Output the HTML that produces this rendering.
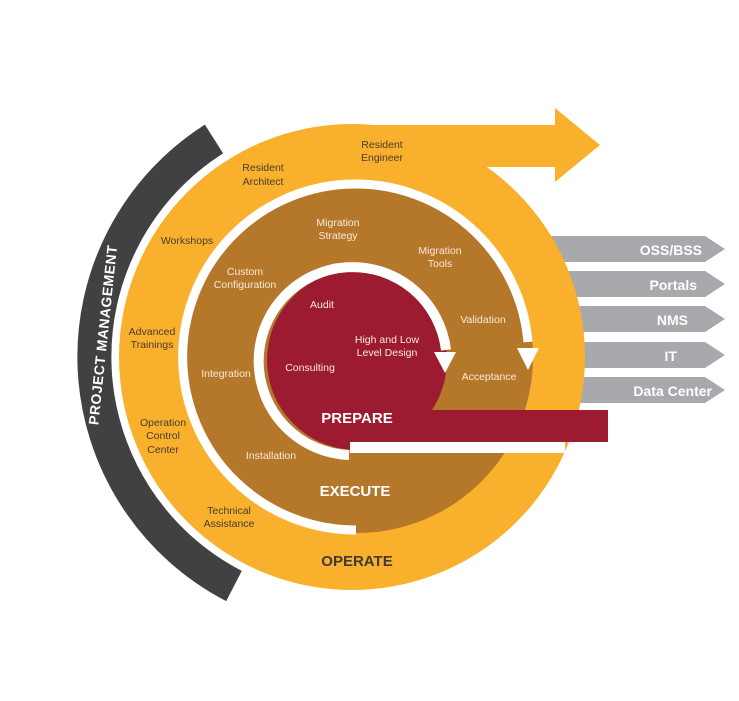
<!DOCTYPE html>
<html><head><meta charset="utf-8"><style>
html,body{margin:0;padding:0;background:#fff;width:739px;height:701px;overflow:hidden}
svg{display:block}
text{font-family:"Liberation Sans",sans-serif}
.o{fill:#4a3b2c;font-size:10.5px}
.b{fill:#f7ead6;font-size:10.5px}
.g{fill:#fff;font-size:14px;font-weight:bold}
</style></head><body>
<svg width="739" height="701" viewBox="0 0 739 701" xmlns="http://www.w3.org/2000/svg">
<g fill="#a7a9ac">
<polygon points="540,236 705,236 725,249 705,262 540,262"/>
<polygon points="540,271 705,271 725,284 705,297 540,297"/>
<polygon points="540,306 705,306 725,319 705,332 540,332"/>
<polygon points="540,342 705,342 725,355 705,368 540,368"/>
<polygon points="540,377 705,377 725,390 705,403 540,403"/>
</g>
<g class="g" text-anchor="end">
<text x="702" y="255">OSS/BSS</text>
<text x="697" y="290">Portals</text>
<text x="688" y="325">NMS</text>
<text x="677" y="361">IT</text>
<text x="712" y="396">Data Center</text>
</g>
<path d="M214,139 A258,258 0 0 0 234,586" fill="none" stroke="#414042" stroke-width="34"/>
<circle cx="352" cy="357" r="233" fill="#f9b12d"/>
<rect x="352" y="125" width="205" height="42" fill="#f9b12d"/>
<polygon points="555,108 600,145 555,182" fill="#f9b12d"/>
<circle cx="357" cy="357" r="176" fill="#b5782b"/>
<path d="M356,530 A173,173 0 1 1 528,342" fill="none" stroke="#fff" stroke-width="9"/>
<polygon points="517,348 539,348 528,370" fill="#fff"/>
<circle cx="357" cy="360" r="90" fill="#9c1b31"/>
<path d="M349,455 A94,94 0 1 1 446,350" fill="none" stroke="#fff" stroke-width="10"/>
<polygon points="434,352 456,352 445,373" fill="#fff"/>
<rect x="350" y="441" width="215" height="12" fill="#fff"/>
<rect x="345" y="410" width="263" height="32" fill="#9c1b31"/>
<g class="o" text-anchor="middle">
<text x="382" y="148">Resident</text><text x="382" y="161">Engineer</text>
<text x="263" y="171">Resident</text><text x="263" y="185">Architect</text>
<text x="187" y="244">Workshops</text>
<text x="152" y="335">Advanced</text><text x="152" y="348">Trainings</text>
<text x="163" y="426">Operation</text><text x="163" y="439">Control</text><text x="163" y="453">Center</text>
<text x="229" y="514">Technical</text><text x="229" y="527">Assistance</text>
</g>
<g class="b" text-anchor="middle">
<text x="338" y="226">Migration</text><text x="338" y="239">Strategy</text>
<text x="440" y="254">Migration</text><text x="440" y="267">Tools</text>
<text x="245" y="275">Custom</text><text x="245" y="288">Configuration</text>
<text x="483" y="323">Validation</text>
<text x="489" y="380">Acceptance</text>
<text x="226" y="377">Integration</text>
<text x="271" y="459">Installation</text>
<text x="322" y="308">Audit</text>
<text x="387" y="343">High and Low</text><text x="387" y="356">Level Design</text>
<text x="310" y="371">Consulting</text>
</g>
<g font-weight="bold" font-size="15" text-anchor="middle">
<text x="357" y="423" fill="#fff">PREPARE</text>
<text x="355" y="496" fill="#fff">EXECUTE</text>
<text x="357" y="566" fill="#3f3a36">OPERATE</text>
</g>
<text x="0" y="0" transform="translate(104,335) rotate(-84)" fill="#fff" font-size="14" font-weight="bold" letter-spacing="0.5" text-anchor="middle" dominant-baseline="middle">PROJECT MANAGEMENT</text>
</svg>
</body></html>
